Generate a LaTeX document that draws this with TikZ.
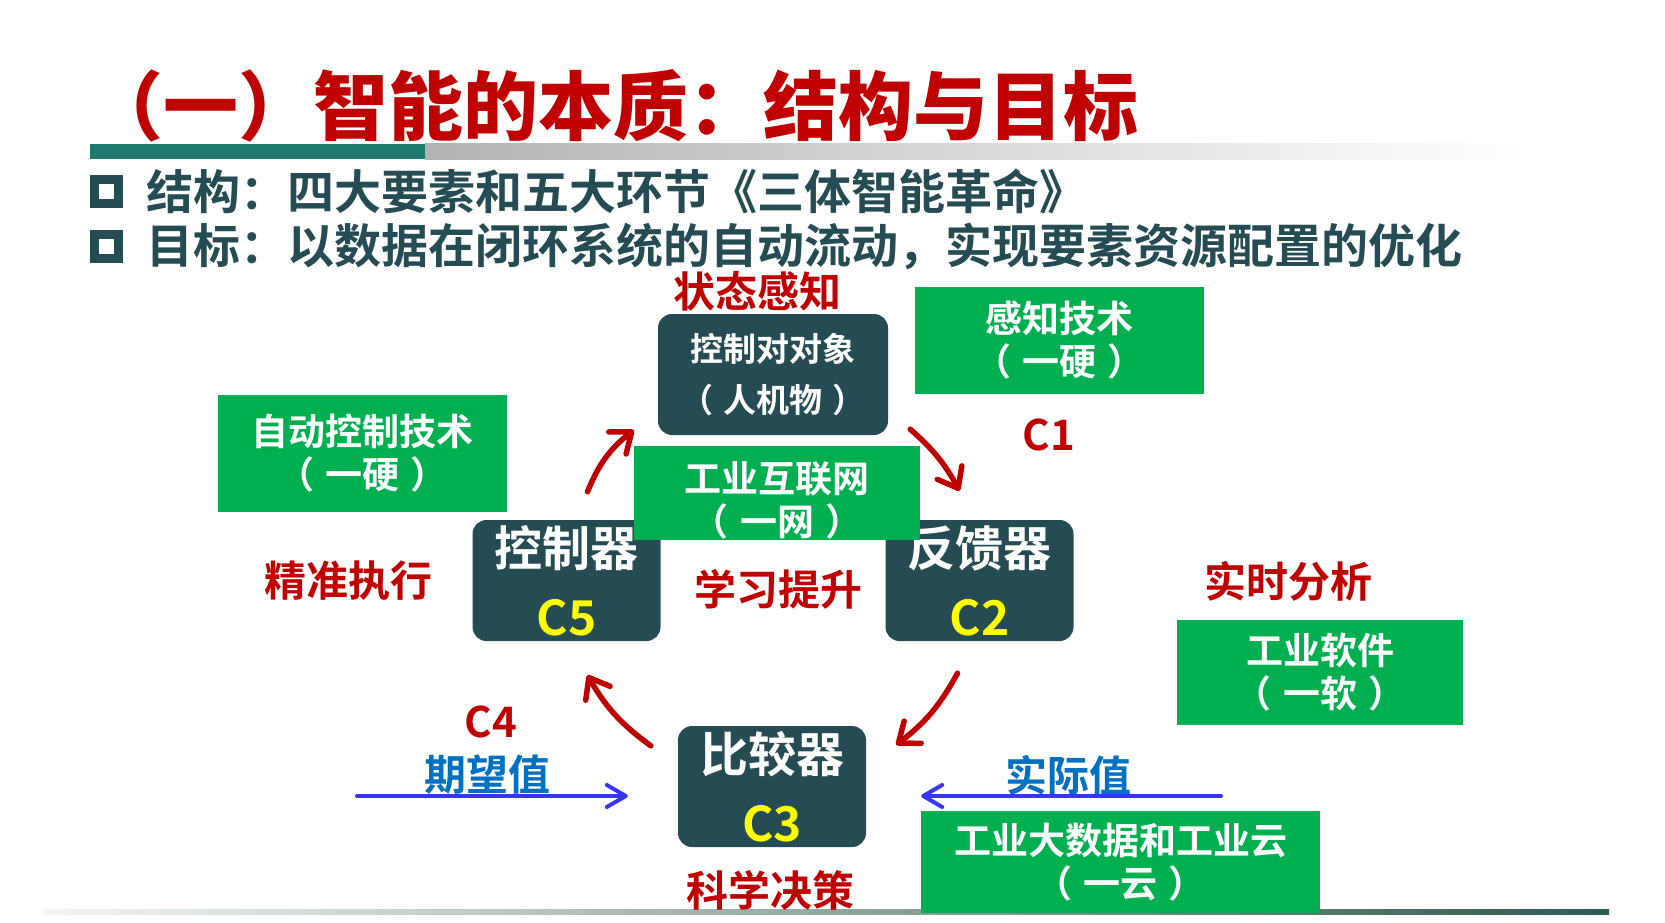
\documentclass[tikz,border=0pt]{standalone}
\usepackage{fontspec}
\setmainfont{Noto Sans CJK SC}[BoldFont={Noto Sans CJK SC Bold}]
\newfontfamily\headfont{Noto Sans CJK SC Black}
\usepackage{xcolor}
\usetikzlibrary{arrows.meta, positioning, calc}
\definecolor{titlered}{HTML}{C00000}
\definecolor{deepteal}{HTML}{254B53}
\definecolor{barteal}{HTML}{1F7A6F}
\definecolor{lineteal}{HTML}{2E5B4F}
\definecolor{techgreen}{HTML}{00B050}
\definecolor{labelblue}{HTML}{0070C0}
\definecolor{flowblue}{HTML}{3636F2}
\definecolor{cyellow}{HTML}{FFFF00}
\newcommand{\fsz}[2]{\fontsize{#1}{#2}\selectfont\bfseries}
\newcommand{\po}{（\kern0.3em}
\newcommand{\pc}{\kern0.3em）}

\begin{document}
\begin{tikzpicture}[x=1pt, y=-1pt,
    ctrlbox/.style={rectangle, rounded corners=14pt, fill=deepteal, text=white,
                    minimum width=188pt, minimum height=121pt, inner sep=0pt,
                    align=center, font=\fsz{48}{69}},
    tech/.style={rectangle, fill=techgreen, text=white, inner sep=0pt,
                 align=center, font=\fsz{37}{43}},
    stage/.style={text=titlered, inner sep=0pt, font=\fsz{42}{48}},
    signal/.style={text=labelblue, inner sep=0pt, font=\fsz{42}{48}},
    item/.style={text=deepteal, inner sep=0pt, font=\fsz{47}{52}},
    sqmark/.style={draw=deepteal, line width=9pt, minimum size=24pt, inner sep=0pt},
    cyclearr/.style={-{Straight Barb[round, length=18pt, width=28pt]},
                     line width=5.5pt, titlered, line cap=round},
    inarr/.style={-{Straight Barb[round, length=19pt, width=22pt]},
                  line width=4pt, flowblue, line cap=round}
]
\useasboundingbox (0,0) rectangle (1665,923);
\fill[white] (0,0) rectangle (1665,923);

% title and rules
\fill[barteal] (90,144) rectangle (425,159);
\shade[left color=gray!60, right color=white] (425,144) rectangle (1530,159);
\shade[left color=gray!8, middle color=gray!55, right color=lineteal] (42,909) rectangle (1609,914);
\node[anchor=west, text=titlered, inner sep=0pt, font=\headfont\fontsize{75}{80}\selectfont] (title) at (88,106) {（一）智能的本质：结构与目标};

\node[sqmark] (struct) at (106.5,191.5) {};
\node[item, right=23pt of struct] (structtxt) {结构：四大要素和五大环节《三体智能革命》};
\node[sqmark] (goal) at (106.5,246.5) {};
\node[item, right=23pt of goal] (goaltxt) {目标：以数据在闭环系统的自动流动，实现要素资源配置的优化};

% loop
\node[stage] (sense) at (757,291) {状态感知};
\node[ctrlbox, minimum width=230pt, font=\fsz{33}{51}] (obj) at (773,374.5) {控制对对象\\\po 人机物\pc};
\node[ctrlbox] (ctrl) at (566.5,580.5) {控制器\\\textcolor{cyellow}{C5}};
\node[ctrlbox] (fb) at (979.5,580.5) {反馈器\\\textcolor{cyellow}{C2}};
\node[ctrlbox] (cmp) at (772,786.5) {比较器\\\textcolor{cyellow}{C3}};

\node[tech, minimum width=289pt, minimum height=107pt] (sensetech) at (1059.5,340.5) {感知技术\\\po 一硬\pc};
\node[tech, minimum width=289pt, minimum height=117pt] (autotech) at (362.5,453.5) {自动控制技术\\\po 一硬\pc};
\node[tech, minimum width=286pt, minimum height=94pt] (nettech) at (777,493) {};
\node[tech, fill=none] (nettxt) at (777,500) {工业互联网\\\po 一网\pc};
\node[tech, minimum width=286pt, minimum height=105pt] (softtech) at (1320,672.5) {工业软件\\\po 一软\pc};
\node[tech, minimum width=399pt, minimum height=102pt] (cloudtech) at (1120.5,862) {工业大数据和工业云\\\po 一云\pc};

\node[stage] (execute) at (348,581) {精准执行};
\node[stage] (learn) at (778,589) {学习提升};
\node[stage] (analyse) at (1288,581) {实时分析};
\node[stage] (decide) at (770,890) {科学决策};
\node[stage] (cone) at (1049,435) {C1};
\node[stage] (cfour) at (491,722) {C4};

\draw[cyclearr] ([xshift=21pt,yshift=28pt]ctrl.north) to[bend left=15] ([xshift=-24pt,yshift=5pt]obj.south west);
\draw[cyclearr] ([xshift=22pt,yshift=6pt]obj.south east) to[bend left=10] ([xshift=-20pt,yshift=29pt]fb.north);
\draw[cyclearr] ([xshift=-22pt,yshift=-32pt]fb.south) to[bend left=12] ([xshift=30pt,yshift=-19pt]cmp.north east);
\draw[cyclearr] ([xshift=-27pt,yshift=-20pt]cmp.north west) to[bend left=12] ([xshift=21pt,yshift=-34pt]ctrl.south);

% set point and measured value
\node[signal] (want) at (487,775) {期望值};
\node[signal] (real) at (1068,775) {实际值};
\coordinate (wantstart) at (357,796);
\coordinate (realstart) at (1221,796);
\draw[inarr] (wantstart) -- ([xshift=-50pt,yshift=-9.5pt]cmp.west);
\draw[inarr] (realstart) -- ([xshift=55pt,yshift=-9.5pt]cmp.east);
\end{tikzpicture}
\end{document}
